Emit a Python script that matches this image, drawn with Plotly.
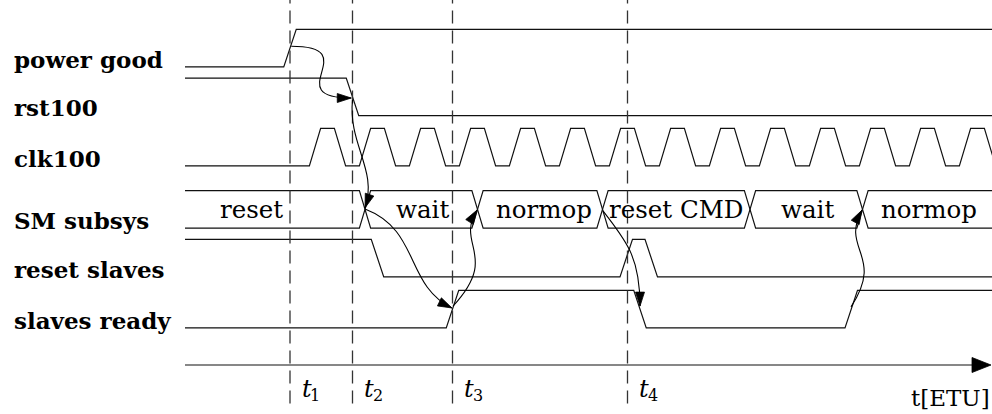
import plotly.graph_objects as go

# ---------------- data ----------------
SIGNAL_NAMES = ["power good", "rst100", "clk100", "SM subsys", "reset slaves", "slaves ready"]
ROW_LOW = [7.95, 6.65, 5.31, 3.65, 2.35, 0.99]      # low level of each row (y units)
T_START = -0.2
T_END = 32.6

T_MARKS = [4.0, 6.5, 10.5, 17.5]
T_MARK_SUBS = ["1", "2", "3", "4"]
AXIS_LABEL = "t[ETU]"

PG_INIT, PG_EDGES = 0, [4.0]
RST_INIT, RST_EDGES = 1, [6.5]
CLK_INIT, CLK_EDGES = 0, [5, 6, 7, 8, 9, 10, 11, 12, 13, 14, 15, 16, 17, 18, 19, 20,
                         21, 22, 23, 24, 25, 26, 27, 28, 29, 30, 31, 32]
RS_INIT, RS_EDGES = 1, [7.5, 17.45, 18.45]
SR_INIT, SR_EDGES = 0, [10.5, 18.0, 26.45]

SM_CROSS = [7.0, 11.5, 16.5, 22.4, 26.9]
SM_STATES = ["reset", "wait", "normop", "reset CMD", "wait", "normop"]
SM_TEXT_T = [2.45, 9.28, 14.15, 19.45, 24.7, 29.55]

# causality arrows: start, control 1, control 2, end  (time, y)
ARROWS = [
    [(4.05, 8.50), (7.05, 8.50), (3.50, 7.12), (6.45, 7.12)],
    [(6.50, 7.07), (6.32, 5.87), (7.52, 5.20), (7.00, 4.19)],
    [(7.00, 4.16), (9.20, 3.60), (8.60, 2.13), (10.48, 1.52)],
    [(10.52, 1.57), (12.40, 2.93), (10.60, 3.20), (11.48, 4.13)],
    [(16.52, 4.11), (17.40, 3.33), (18.00, 2.93), (18.00, 1.57)],
    [(26.44, 1.55), (27.80, 2.93), (26.00, 3.07), (26.88, 4.13)],
]

# ---------------- layout constants ----------------
W, H = 992, 414
X_RANGE = [-7.6, 32.08]
Y_RANGE = [-1.3067, 9.7333]
SX = W / (X_RANGE[1] - X_RANGE[0])     # px per time unit
SY = H / (Y_RANGE[1] - Y_RANGE[0])     # px per y unit
LINE = dict(color="#111111", width=1.2)
SLOPE = 0.5
CLK_SLOPE = 0.45
BUS_W = 0.45

fig = go.Figure()


def wave(init, edges, base, slope):
    xs, ys = [T_START], [base + init]
    lvl = init
    for e in edges:
        xs += [e - slope / 2, e + slope / 2]
        ys += [base + lvl, base + 1 - lvl]
        lvl = 1 - lvl
    xs.append(T_END)
    ys.append(base + lvl)
    return xs, ys


def add_line(xs, ys, line=LINE):
    fig.add_trace(go.Scatter(x=xs, y=ys, mode="lines", line=line,
                             hoverinfo="skip", showlegend=False))


for init, edges, base, sl in [
    (PG_INIT, PG_EDGES, ROW_LOW[0], SLOPE),
    (RST_INIT, RST_EDGES, ROW_LOW[1], SLOPE),
    (CLK_INIT, CLK_EDGES, ROW_LOW[2], CLK_SLOPE),
    (RS_INIT, RS_EDGES, ROW_LOW[4], SLOPE),
    (SR_INIT, SR_EDGES, ROW_LOW[5], SLOPE),
]:
    add_line(*wave(init, edges, base, sl))

# bus (two lines that swap at each crossing -> X shapes)
add_line(*wave(1, SM_CROSS, ROW_LOW[3], BUS_W))
add_line(*wave(0, SM_CROSS, ROW_LOW[3], BUS_W))

# time axis
add_line([T_START, 31.6], [0, 0])

# dashed markers
for t in T_MARKS:
    add_line([t, t], [-1.03, 9.9], dict(color="#333333", width=1.3, dash="13px,7px"))

shapes = []


def arrow_head(tip, frm, length, half):
    dx = (tip[0] - frm[0]) * SX
    dy = (tip[1] - frm[1]) * SY
    n = (dx * dx + dy * dy) ** 0.5
    ux, uy = dx / n, dy / n
    bx, by = -ux * length, -uy * length
    px, py = -uy * half, ux * half
    p1 = (tip[0] + (bx + px) / SX, tip[1] + (by + py) / SY)
    p2 = (tip[0] + (bx - px) / SX, tip[1] + (by - py) / SY)
    path = "M {},{} L {},{} L {},{} Z".format(tip[0], tip[1], p1[0], p1[1], p2[0], p2[1])
    return dict(type="path", path=path, xref="x", yref="y",
                fillcolor="black", line=dict(color="black", width=0.8))


for p0, c1, c2, p3 in ARROWS:
    path = "M {},{} C {},{} {},{} {},{}".format(p0[0], p0[1], c1[0], c1[1],
                                               c2[0], c2[1], p3[0], p3[1])
    shapes.append(dict(type="path", path=path, xref="x", yref="y",
                       line=dict(color="black", width=1.1)))
    shapes.append(arrow_head(p3, c2, 14, 4.5))

shapes.append(arrow_head((32.04, 0), (31.0, 0), 19, 7.5))

annotations = []
SERIF = "DejaVu Serif"
for name, base in zip(SIGNAL_NAMES, ROW_LOW):
    annotations.append(dict(x=-7.12, y=base + 0.21, text=name, showarrow=False,
                            xanchor="left", yanchor="middle",
                            font=dict(family=SERIF, size=23, color="black", weight="bold")))
for txt, t in zip(SM_STATES, SM_TEXT_T):
    annotations.append(dict(x=t, y=ROW_LOW[3] + 0.5, text=txt, showarrow=False,
                            xanchor="center", yanchor="middle",
                            font=dict(family=SERIF, size=24.5, color="black")))
for t, s in zip(T_MARKS, T_MARK_SUBS):
    annotations.append(dict(x=t + 0.38, y=-0.63, text="t",
                            showarrow=False, xanchor="left", yanchor="middle",
                            font=dict(family=SERIF, size=24, color="black", style="italic")))
    annotations.append(dict(x=t + 0.72, y=-0.8, text=s,
                            showarrow=False, xanchor="left", yanchor="middle",
                            font=dict(family=SERIF, size=16, color="black")))
annotations.append(dict(x=32.06, y=-0.88, text=AXIS_LABEL, showarrow=False,
                        xanchor="right", yanchor="middle",
                        font=dict(family=SERIF, size=23, color="black")))

fig.update_layout(
    width=W, height=H, margin=dict(l=0, r=0, t=0, b=0),
    paper_bgcolor="white", plot_bgcolor="white",
    xaxis=dict(range=X_RANGE, visible=False, fixedrange=True),
    yaxis=dict(range=Y_RANGE, visible=False, fixedrange=True),
    shapes=shapes, annotations=annotations,
)
fig.write_html("out.html", config={"displayModeBar": False},
               post_script="document.body.style.margin='0';document.body.style.overflow='hidden';")
